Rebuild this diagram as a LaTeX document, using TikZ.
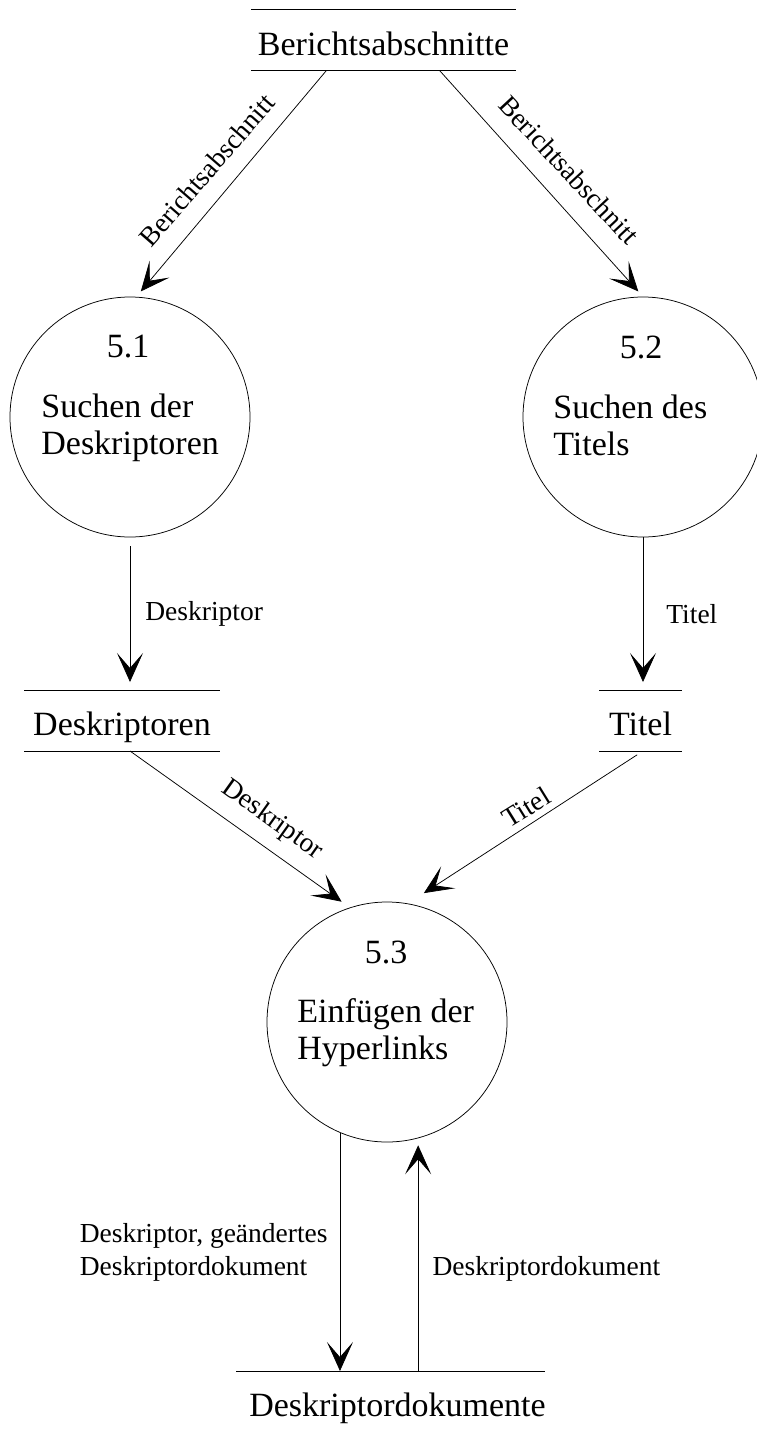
\documentclass[tikz,border=0pt]{standalone}
\usepackage{fontspec}
\setmainfont{Liberation Serif}
\usetikzlibrary{arrows.meta,calc,positioning}

\tikzset{every picture/.style={line width=0.75pt}}
\tikzset{
  proc/.style={draw, circle, minimum size=240pt, inner sep=0pt},
  store/.style={inner sep=0pt, outer sep=0pt, minimum height=61pt, text height=30pt, text depth=0pt, font=\fontsize{34}{37}\selectfont},
  storeline/.style={line width=1pt},
  bigtext/.style={inner sep=0pt, align=left, font=\fontsize{34}{37}\selectfont},
  flow/.style={-{Stealth[length=29pt,width=26pt,inset=15pt]}},
  flowlabel/.style={inner sep=0pt, font=\fontsize{27.5}{33}\selectfont},
}

\begin{document}
\begin{tikzpicture}[x=1pt,y=1pt,yscale=-1,xscale=1]
\useasboundingbox (0,0) rectangle (756,1429);

%Shape: Circle [5.1]
\node [proc] (p1) at (130,417) {};
%Shape: Circle [5.2]
\node [proc] (p2) at (643,417) {};
%Shape: Circle [5.3]
\node [proc] (p3) at (387,1022) {};

% Text Node
\node [bigtext] (n1) at ($(p1)+(-2,-70)$) {5.1};
% Text Node
\node [bigtext, anchor=west] (t1) at ($(p1)+(-89,11)$) {Suchen der\\Deskriptoren};
% Text Node
\node [bigtext] (n2) at ($(p2)+(-2,-70)$) {5.2};
% Text Node
\node [bigtext, anchor=west] (t2) at ($(p2)+(-90,8)$) {Suchen des\\Titels};
% Text Node
\node [bigtext] (n3) at ($(p3)+(-1,-70)$) {5.3};
% Text Node
\node [bigtext, anchor=west] (t3) at ($(p3)+(-90,11)$) {Einfügen der\\Hyperlinks};

%Store: Berichtsabschnitte
\node [store, minimum width=265pt] (s1) at (383.5,40.5) {Berichtsabschnitte};
\draw [storeline] (s1.north west) -- (s1.north east) (s1.south west) -- (s1.south east);
%Store: Deskriptoren
\node [store, minimum width=196pt] (s2) at (122,720.5) {Deskriptoren};
\draw [storeline] (s2.north west) -- (s2.north east) (s2.south west) -- (s2.south east);
%Store: Titel
\node [store, minimum width=83pt] (s3) at (640.5,720.5) {Titel};
\draw [storeline] (s3.north west) -- (s3.north east) (s3.south west) -- (s3.south east);
%Store: Deskriptordokumente (text sits a little right of the line's middle)
\node [store, minimum width=309pt] (s4) at (397.5,1401.5) {Deskriptordokumente};
\draw [storeline] ($(s4.north west)+(-7,0)$) -- ($(s4.north east)+(-7,0)$);

%Flows
\draw [flow, shorten >=7pt] ($(s1.south)+(-57.5,0)$) -- (p1.87);
\draw [flow, shorten >=7pt] ($(s1.south)+(56.5,0)$) -- (p2.north);
\draw [flow, shorten <=9pt, shorten >=8pt] (p1.south) -- (p1.south |- s2.north)
  node [flowlabel, midway, right=15pt] (f3) {Deskriptor};
\draw [flow, shorten >=8pt] (p2.south) -- (p2.south |- s3.north)
  node [flowlabel, midway, right=23pt] (f4) {Titel};
\draw [flow, shorten >=10pt] (s2.south -| p1.south) -- (p3.108);
\draw [flow, shorten <=7pt, shorten >=19pt] (s3.south -| p2.south) -- (p3.80);
\draw [flow] (p3.247) -- (p3.247 |- s4.north)
  node [flowlabel, midway, left=12pt, align=left] (f7) {Deskriptor, geändertes\\Deskriptordokument};
\draw [flow, shorten >=7pt] (s4.north -| p3.285) -- (p3.285)
  node [flowlabel, pos=0.44, right=14pt] (f8) {Deskriptordokument};

% Text Node (slanted labels)
\node [flowlabel, rotate=49] (f1) at (207,170) {Berichtsabschnitt};
\node [flowlabel, rotate=-47] (f2) at (569,170) {Berichtsabschnitt};
\node [flowlabel, rotate=-35.5] (f5) at (272,820) {Deskriptor};
\node [flowlabel, rotate=31.8] (f6) at (526,807) {Titel};

\end{tikzpicture}
\end{document}
